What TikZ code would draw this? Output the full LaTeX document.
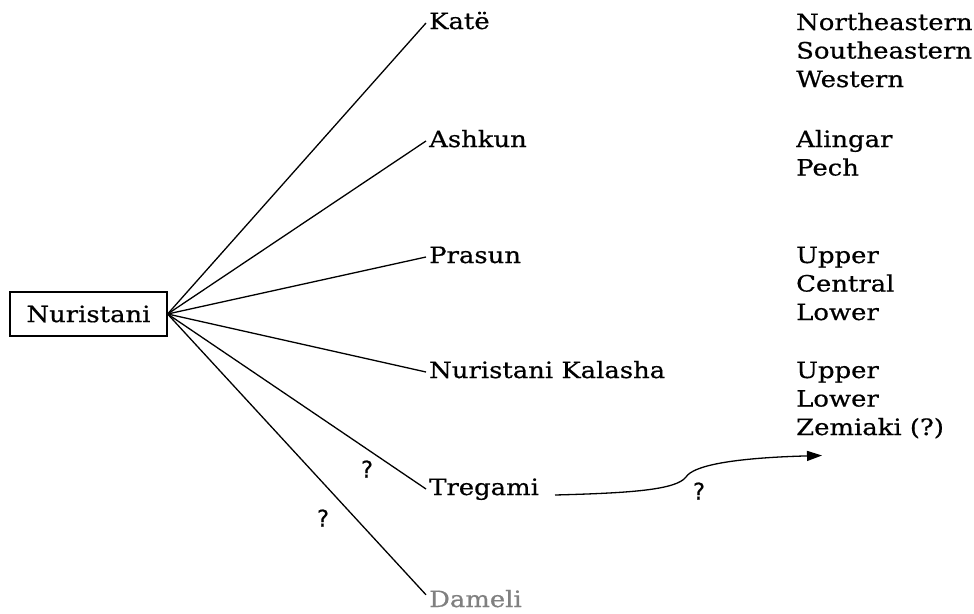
\documentclass[tikz,border=0pt]{standalone}
\usepackage{fontspec}
\setmainfont{DejaVu Serif}[FakeStretch=1.15, FakeBold=0.6]
\newfontfamily\qfont{DejaVu Sans}[FakeBold=0.4]
\usetikzlibrary{arrows.meta}

\tikzset{
  txt/.style={font=\fontsize{22.5}{26}\selectfont},
  lang/.style={txt, anchor=base west, inner xsep=3pt, inner ysep=0pt,
    text height=12pt, text depth=0pt},
  dialect/.style={txt, anchor=base west, inner sep=0pt},
  rootbox/.style={txt, draw, line width=1.2pt, inner sep=0pt,
    minimum width=157pt, minimum height=44pt},
  branch/.style={line width=1.3pt},
  qmark/.style={font=\qfont\fontsize{23}{26}\selectfont, inner sep=0pt},
  migr/.style={line width=1.3pt, -{Triangle[length=15pt,width=10pt]}}
}

\begin{document}
\begin{tikzpicture}[x=1pt, y=-1pt]
  \useasboundingbox (0,0) rectangle (974,613);

  % root of the family
  \node[rootbox] (nur) at (88.5,314) {Nuristani};
  \coordinate (hub) at (nur.east);

  % branches
  \node[lang] (kate)    at (426,29)  {Katë};
  \node[lang] (ashkun)  at (426,147) {Ashkun};
  \node[lang] (prasun)  at (426,263) {Prasun};
  \node[lang] (kalasha) at (426,378) {Nuristani Kalasha};
  \node[lang] (tregami) at (426,495) {Tregami};
  \node[lang, text=black!50] (dameli) at (426,607) {Dameli};

  \draw[branch] (hub) -- (kate.west);
  \draw[branch] (hub) -- (ashkun.west);
  \draw[branch] (hub) -- (prasun.west);
  \draw[branch] (hub) -- (kalasha.west);
  \draw[branch] (hub) -- (tregami.west);
  \draw[branch] (hub) -- (dameli.north west);

  % uncertain membership marks
  \node[qmark] (q1) at (367,469) {?};
  \node[qmark] (q2) at (323,518) {?};

  % dialects
  \node[dialect] (ne)   at (796,30)  {Northeastern};
  \node[dialect] (se)   at (796,58.5){Southeastern};
  \node[dialect] (we)   at (796,87)  {Western};

  \node[dialect] (al)   at (796,147) {Alingar};
  \node[dialect] (pe)   at (796,175.5){Pech};

  \node[dialect] (pu)   at (796,263) {Upper};
  \node[dialect] (pc)   at (796,291.5){Central};
  \node[dialect] (pl)   at (796,320) {Lower};

  \node[dialect] (ku)   at (796,378) {Upper};
  \node[dialect] (kl)   at (796,406.5){Lower};
  \node[dialect] (kz)   at (796,435) {Zemiaki (?)};

  % possible link from Tregami
  \coordinate (tstart) at (555,495);
  \coordinate (tend) at (822,455.5);
  \draw[migr] (tstart) .. controls (630,493) and (676,490) .. (686,477)
              .. controls (693,466) and (730,458) .. (tend);
  \node[qmark] (q3) at (699,491) {?};
\end{tikzpicture}
\end{document}
